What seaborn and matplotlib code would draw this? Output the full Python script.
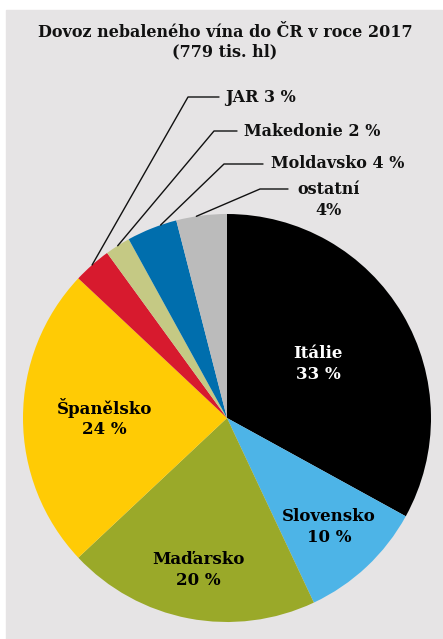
import numpy as np
import matplotlib
matplotlib.use("Agg")
import matplotlib.pyplot as plt
import matplotlib.patches as mpatches
import seaborn as sns

# ── Data ───────────────────────────────────────────────────────────────────────
COUNTRIES = ["Itálie", "Slovensko", "Maďarsko", "Španělsko",
             "JAR", "Makedonie", "Moldavsko", "ostatní"]
SHARES = [33, 10, 20, 24, 3, 2, 4, 4]
COLORS = ["#000000", "#4db4e7", "#9aa929", "#ffcb05",
          "#d71a2e", "#c5c984", "#006ead", "#bbbbbb"]
TITLE = "Dovoz nebaleného vína do ČR v roce 2017\n(779 tis. hl)"

# labels drawn inside the pie: text, colour, radius fraction
INSIDE = {
    "Itálie": ("Itálie\n33 %", "white", 0.52),
    "Slovensko": ("Slovensko\n10 %", "black", 0.73),
    "Maďarsko": ("Maďarsko\n20 %", "black", 0.76),
    "Španělsko": ("Španělsko\n24 %", "black", 0.60),
}
# small slices with leader lines:
# text, position inside slice (0..1), elbow (px), line end (px), text anchor (px)
OUTSIDE = {
    "JAR": ("JAR 3 %", 0.5, (188, 97), (219, 97), (225, 97), "left"),
    "Makedonie": ("Makedonie 2 %", 0.5, (214, 131), (237, 131), (244, 131), "left"),
    "Moldavsko": ("Moldavsko 4 %", 0.32, (224, 164), (263, 164), (271, 164), "left"),
    "ostatní": ("ostatní\n4%", 0.6, (260, 189), (288, 189), (329, 200), "center"),
}

W, H = 443, 639
CX, CY, R = 227, 418, 204
BG = "#e6e4e5"
FONT = "DejaVu Serif"


def fy(y):
    # pixel row (from top) -> data y
    return H - y


sns.set_theme(style="white")
plt.rcParams["font.family"] = [FONT, "DejaVu Sans"]

fig = plt.figure(figsize=(W / 100, H / 100), dpi=100, facecolor="white")
ax = fig.add_axes([0, 0, 1, 1])

ax.add_patch(mpatches.Rectangle((6, 0), 436, H - 10, color=BG, zorder=0))

wedges, _ = ax.pie(
    SHARES, colors=COLORS, startangle=90, counterclock=False,
    center=(CX, fy(CY)), radius=R, frame=True,
    wedgeprops={"linewidth": 0, "zorder": 2},
)
ax.set_xlim(0, W)
ax.set_ylim(0, H)
ax.set_aspect("equal")
ax.axis("off")

for name, w in zip(COUNTRIES, wedges):
    if name in INSIDE:
        text, col, frac = INSIDE[name]
        mid = np.deg2rad((w.theta1 + w.theta2) / 2)
        ax.text(CX + frac * R * np.cos(mid), fy(CY) + frac * R * np.sin(mid),
                text, ha="center", va="center", color=col, fontsize=12,
                fontweight="bold", linespacing=1.3, zorder=5)
    else:
        text, pos, elbow, end, anchor, ha = OUTSIDE[name]
        ang = np.deg2rad(w.theta1 + pos * (w.theta2 - w.theta1))
        sx, sy = CX + R * np.cos(ang), fy(CY) + R * np.sin(ang)
        ax.plot([sx, elbow[0], end[0]], [sy, fy(elbow[1]), fy(end[1])],
                color="#111111", lw=1.0, zorder=4)
        ax.text(anchor[0], fy(anchor[1]), text, ha=ha, va="center",
                fontsize=11.5, fontweight="bold", color="#111111",
                linespacing=1.35, zorder=5)

ax.text(225, fy(42), TITLE, ha="center", va="center", fontsize=11.5,
        fontweight="bold", color="#111111", linespacing=1.2)

fig.savefig("out.png", dpi=100, facecolor="white")
